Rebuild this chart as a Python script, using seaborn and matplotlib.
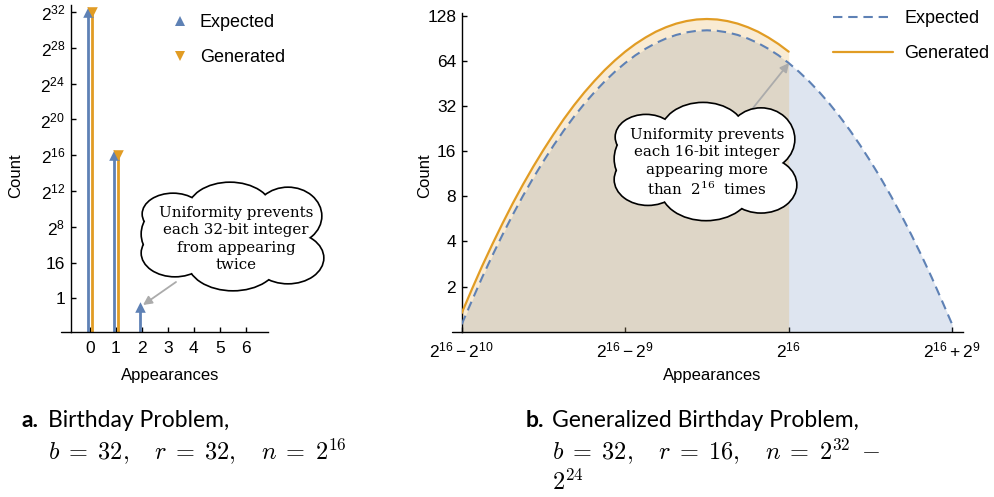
import matplotlib
matplotlib.use("Agg")
import matplotlib.pyplot as plt
from matplotlib.patches import Ellipse, FancyArrowPatch
from matplotlib.lines import Line2D
from matplotlib.ticker import NullLocator
import seaborn as sns

# --- panel a: birthday problem (b=32, r=32, n=2^16) ---
appearances_a = [0, 1, 2]
expected_a = [4294901760, 65535, 0.5]
appearances_gen_a = [0, 1]
generated_a = [4294901760, 65536]  # no value appears twice

a_ytick_labels = ["1", "16", "$2^{8}$", "$2^{12}$", "$2^{16}$", "$2^{20}$",
                  "$2^{24}$", "$2^{28}$", "$2^{32}$"]
a_xticks = [0, 1, 2, 3, 4, 5, 6]

# --- panel b: generalized birthday problem (b=32, r=16, n=2^32-2^24) ---
appearances_b = [64512, 64544, 64576, 64608, 64640, 64672, 64704, 64736, 64768,
                 64800, 64832, 64864, 64896, 64928, 64960, 64992, 65024, 65056,
                 65088, 65120, 65152, 65184, 65216, 65248, 65280, 65312, 65344,
                 65376, 65408, 65440, 65472, 65504, 65536, 65568, 65600, 65632,
                 65664, 65696, 65728, 65760, 65792, 65824, 65856, 65888, 65920,
                 65952, 65984, 66016, 66048]
expected_b = [1.12, 1.61, 2.30, 3.22, 4.44, 6.03, 8.06, 10.6, 13.7,
              17.5, 22.0, 27.2, 33.1, 39.6, 46.7, 54.2, 61.9, 69.7,
              77.1, 84.1, 90.2, 95.3, 99.1, 101.5, 102.3, 101.5, 99.1,
              95.3, 90.2, 84.1, 77.1, 69.7, 61.9, 54.2, 46.7, 39.6,
              33.1, 27.2, 22.0, 17.5, 13.7, 10.6, 8.06, 6.03, 4.44,
              3.22, 2.30, 1.61, 1.12]
appearances_gen_b = [64512, 64544, 64576, 64608, 64640, 64672, 64704, 64736, 64768,
                     64800, 64832, 64864, 64896, 64928, 64960, 64992, 65024, 65056,
                     65088, 65120, 65152, 65184, 65216, 65248, 65280, 65312, 65344,
                     65376, 65408, 65440, 65472, 65504, 65536]
generated_b = [1.33, 1.92, 2.74, 3.83, 5.28, 7.18, 9.59, 12.6, 16.3,
               20.8, 26.2, 32.4, 39.4, 47.1, 55.6, 64.5, 73.7, 82.9,
               91.7, 100.1, 107.3, 113.4, 117.9, 120.8, 121.7, 120.8, 117.9,
               113.4, 107.3, 100.1, 91.7, 82.9, 73.7]

b_yticks = [2, 4, 8, 16, 32, 64, 128]
b_xticks = [64512, 65024, 65536, 66048]
b_xtick_labels = ["$2^{16}-2^{10}$", "$2^{16}-2^{9}$", "$2^{16}$", "$2^{16}+2^{9}$"]

BLUE = "#5e81b5"
ORANGE = "#e19c24"
ARROW = "#ababab"
W, H = 994, 497

sns.set_theme(style="ticks")
plt.rcParams["font.family"] = ["Liberation Sans", "DejaVu Sans"]
plt.rcParams["mathtext.fontset"] = "custom"
plt.rcParams["mathtext.rm"] = "Liberation Sans"
plt.rcParams["mathtext.it"] = "Liberation Sans:italic"
plt.rcParams["mathtext.bf"] = "Liberation Sans:bold"
for key in ("text.color", "axes.labelcolor", "xtick.color", "ytick.color"):
    plt.rcParams[key] = "black"


def fxy(px, py):
    """pixel position (from top-left) -> figure fraction"""
    return px / W, 1 - py / H


def style_axes(ax):
    sns.despine(ax=ax)
    for s in ("left", "bottom"):
        ax.spines[s].set_color("black")
        ax.spines[s].set_linewidth(1.0)
    ax.tick_params(direction="in", length=3.8, width=1.0, colors="black",
                   labelsize=12.5)
    ax.tick_params(axis="x", pad=6)
    ax.tick_params(axis="y", pad=4)
    ax.yaxis.set_minor_locator(NullLocator())
    ax.xaxis.set_minor_locator(NullLocator())
    ax.grid(False)


def draw_cloud(fig, cx, cy, sx=1.0, sy=1.0):
    # (dx, dy, width, height) of the puffs, in pixels around the centre
    lobes = [(-60, -22, 60, 40), (-3, -25, 84, 56), (55, -20, 66, 56),
             (55, 22, 70, 50), (0, 25, 90, 58), (-58, 17, 66, 46),
             (-68, -2, 46, 50), (0, 0, 150, 80)]
    shapes = [((cx + dx * sx, cy + dy * sy), w * sx, h * sy) for dx, dy, w, h in lobes]
    for (px, py), w, h in shapes:
        fig.add_artist(Ellipse(fxy(px, py), w / W, h / H, transform=fig.transFigure,
                               facecolor="white", edgecolor="black", lw=2.4, zorder=5))
    for (px, py), w, h in shapes:
        fig.add_artist(Ellipse(fxy(px, py), w / W, h / H, transform=fig.transFigure,
                               facecolor="white", edgecolor="none", zorder=6))


def draw_arrow(fig, start, end):
    fig.add_artist(FancyArrowPatch(fxy(*start), fxy(*end), transform=fig.transFigure,
                                   arrowstyle="-|>", mutation_scale=13, color=ARROW,
                                   lw=1.3, shrinkA=0, shrinkB=0, zorder=4))


fig = plt.figure(figsize=(W / 100, H / 100), dpi=100)

# ---------------- panel a ----------------
ax_a = fig.add_axes([71 / W, 1 - 332.3 / H, 196.7 / W, 327.3 / H])
ax_a.set_yscale("log", base=2)
a_ymin, a_ymax = 2 ** -3.8, 2 ** 32.8
off = 0.085
ax_a.vlines([x - off for x in appearances_a], a_ymin, expected_a, color=BLUE, lw=2.0)
ax_a.vlines([x + off for x in appearances_gen_a], a_ymin, generated_a, color=ORANGE, lw=2.0)
sns.scatterplot(x=[x - off for x in appearances_a], y=expected_a, ax=ax_a, marker="^",
                color=BLUE, s=58, linewidth=0, zorder=3, legend=False)
sns.scatterplot(x=[x + off for x in appearances_gen_a], y=generated_a, ax=ax_a, marker="v",
                color=ORANGE, s=58, linewidth=0, zorder=3, legend=False)
ax_a.set_xlim(-0.73, 6.85)
ax_a.set_ylim(a_ymin, a_ymax)
ax_a.set_xticks(a_xticks)
ax_a.set_xticklabels([str(t) for t in a_xticks])
ax_a.set_yticks([2 ** k for k in range(0, 33, 4)])
ax_a.set_yticklabels(a_ytick_labels)
style_axes(ax_a)
ax_a.plot([-0.052, 0], [0, 0], transform=ax_a.transAxes, color="black", lw=1.0,
          clip_on=False)
ax_a.set_xlabel("Appearances", fontsize=12)
ax_a.set_ylabel("Count", fontsize=12)
ax_a.xaxis.set_label_coords(0.503, -0.108)
ax_a.yaxis.set_label_coords(-0.244, 0.48)

handles_a = [Line2D([], [], marker="^", color=BLUE, ls="none", ms=7.6, mew=0),
             Line2D([], [], marker="v", color=ORANGE, ls="none", ms=7.6, mew=0)]
ax_a.legend(handles_a, ["Expected", "Generated"], loc="upper left",
            bbox_to_anchor=fxy(171, 14), bbox_transform=fig.transFigure, frameon=False,
            fontsize=13, handlelength=1.0, handletextpad=0.6, labelspacing=1.0,
            borderpad=0, borderaxespad=0)

# ---------------- panel b ----------------
ax_b = fig.add_axes([461.7 / W, 1 - 331.7 / H, 501.3 / W, 318.7 / H])
ax_b.set_yscale("log", base=2)
ax_b.fill_between(appearances_b, 1, expected_b, color=BLUE, alpha=0.2, lw=0)
ax_b.fill_between(appearances_gen_b, 1, generated_b, color=ORANGE, alpha=0.2, lw=0)
sns.lineplot(x=appearances_b, y=expected_b, ax=ax_b, color=BLUE, lw=1.5,
             linestyle=(0, (4.5, 2.8)), errorbar=None, legend=False, zorder=3)
sns.lineplot(x=appearances_gen_b, y=generated_b, ax=ax_b, color=ORANGE, lw=1.6,
             errorbar=None, legend=False, zorder=3)
ax_b.set_xlim(64512, 66082)
ax_b.set_ylim(1, 2 ** 7.06)
ax_b.set_xticks(b_xticks)
ax_b.set_xticklabels(b_xtick_labels)
ax_b.set_yticks(b_yticks)
ax_b.set_yticklabels([str(t) for t in b_yticks])
style_axes(ax_b)
ax_b.plot([-0.02, 0], [0, 0], transform=ax_b.transAxes, color="black", lw=1.0,
          clip_on=False)
ax_b.set_xlabel("Appearances", fontsize=12)
ax_b.set_ylabel("Count", fontsize=12)
ax_b.xaxis.set_label_coords(0.5, -0.113)
ax_b.yaxis.set_label_coords(-0.059, 0.49)

handles_b = [Line2D([], [], color=BLUE, lw=1.5, ls=(0, (4.5, 2.8))),
             Line2D([], [], color=ORANGE, lw=1.6)]
ax_b.legend(handles_b, ["Expected", "Generated"], loc="upper left",
            bbox_to_anchor=fxy(833, 10), bbox_transform=fig.transFigure, frameon=False,
            fontsize=13, handlelength=3.3, handletextpad=0.65, labelspacing=1.0,
            borderpad=0, borderaxespad=0)

# ---------------- annotations ----------------
draw_arrow(fig, (176, 282), (143, 305))
draw_cloud(fig, 233, 236)
fig.text(*fxy(236, 239), "Uniformity prevents\neach 32-bit integer\nfrom appearing\ntwice",
         ha="center", va="center", family="DejaVu Serif", fontsize=10.8,
         linespacing=1.3, zorder=10)

draw_arrow(fig, (753, 108), (789, 63))
draw_cloud(fig, 706, 161, sx=1.0, sy=1.09)
fig.text(*fxy(707, 163),
         "Uniformity prevents\neach 16-bit integer\nappearing more\nthan  $2^{16}$  times",
         ha="center", va="center", family="DejaVu Serif", math_fontfamily="dejavuserif",
         fontsize=10.8, linespacing=1.3, zorder=10)

# ---------------- captions ----------------
fig.text(*fxy(22, 427), "a.", family="Lato", weight="bold", fontsize=16.5, va="baseline")
fig.text(*fxy(48, 427), "Birthday Problem,", family="Lato", fontsize=16.5, va="baseline")
fig.text(*fxy(48, 460), r"$b\;=\;32,\quad r\;=\;32,\quad n\;=\;2^{16}$",
         math_fontfamily="cm", fontsize=17.5, va="baseline")

fig.text(*fxy(526, 427), "b.", family="Lato", weight="bold", fontsize=16.5, va="baseline")
fig.text(*fxy(552, 427), "Generalized Birthday Problem,", family="Lato", fontsize=16.5,
         va="baseline")
fig.text(*fxy(552, 460), r"$b\;=\;32,\quad r\;=\;16,\quad n\;=\;2^{32}\;-$",
         math_fontfamily="cm", fontsize=17.5, va="baseline")
fig.text(*fxy(552, 490), r"$2^{24}$", math_fontfamily="cm", fontsize=17.5, va="baseline")

fig.savefig("out.png", dpi=100)
